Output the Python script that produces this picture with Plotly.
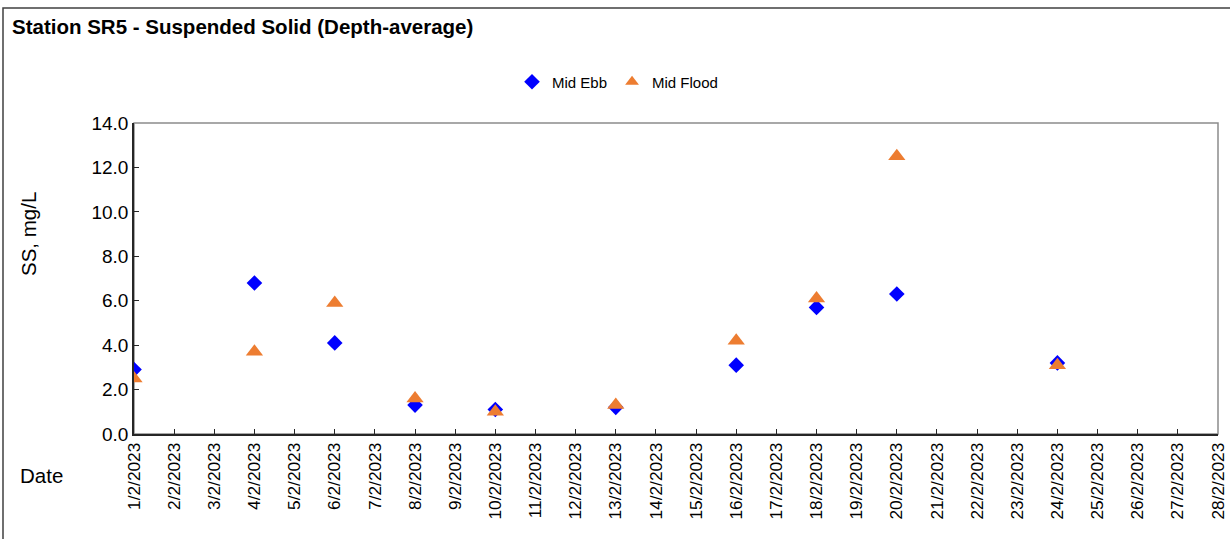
import plotly.graph_objects as go

dates = ["2023-02-01", "2023-02-04", "2023-02-06", "2023-02-08", "2023-02-10",
         "2023-02-13", "2023-02-16", "2023-02-18", "2023-02-20", "2023-02-24"]
mid_ebb = [2.9, 6.8, 4.1, 1.3, 1.1, 1.2, 3.1, 5.7, 6.3, 3.2]
mid_flood = [2.5, 3.7, 5.9, 1.6, 1.0, 1.3, 4.2, 6.1, 12.5, 3.1]

FONT = "Liberation Sans, Arial, sans-serif"

fig = go.Figure()
fig.add_trace(go.Scatter(x=dates, y=mid_ebb, mode="markers", name="Mid Ebb",
                         marker=dict(symbol="diamond", size=12, color="#0000FF")))
fig.add_trace(go.Scatter(x=dates, y=mid_flood, mode="markers", name="Mid Flood",
                         marker=dict(symbol="triangle-up", size=15, color="#ED7D31")))

W, H = 1230, 539
L, R, T, B = 134, 12, 123, 105
pw, ph = W - L - R, H - T - B

def px(x):
    return (x - L) / pw

def py(y):
    return (H - B - y) / ph

fig.update_layout(
    width=W, height=H,
    margin=dict(l=L, r=R, t=T, b=B, autoexpand=False),
    paper_bgcolor="white", plot_bgcolor="white",
    font=dict(family=FONT, color="#000000"),
    title=dict(text="<b>Station SR5 - Suspended Solid (Depth-average)</b>",
               font=dict(size=20.5, family=FONT, color="#000000"),
               xref="container", yref="container",
               x=12 / W, xanchor="left", y=1 - 27 / H, yanchor="middle"),
    showlegend=True,
    legend=dict(orientation="h", x=px(512), xanchor="left", y=py(82), yanchor="middle",
                font=dict(size=15, family=FONT), bgcolor="rgba(0,0,0,0)",
                itemwidth=30, tracegroupgap=0, itemsizing="constant"),
    xaxis=dict(type="date", range=["2023-02-01", "2023-02-28"],
               dtick=86400000, tick0="2023-02-01", tickformat="%-d/%-m/%Y",
               tickangle=-90, ticks="inside", ticklen=5, tickcolor="#262626",
               showline=True, linecolor="#262626", linewidth=1.5,
               showgrid=False, zeroline=False,
               tickfont=dict(size=17.3, family=FONT, color="#000000")),
    yaxis=dict(range=[0, 14], dtick=2, tickformat=".1f",
               ticks="inside", ticklen=5, tickcolor="#262626",
               showline=True, linecolor="#262626", linewidth=1.5,
               showgrid=False, zeroline=False,
               tickfont=dict(size=19, family=FONT, color="#000000")),
)

# plot frame (top/right) and outer chart border
fig.add_shape(type="rect", xref="paper", yref="paper", x0=0, y0=0, x1=1, y1=1,
              line=dict(color="#8c8c8c", width=1.5), layer="below")
fig.add_shape(type="rect", xref="paper", yref="paper",
              x0=px(3), y0=py(560), x1=px(1240), y1=py(8),
              line=dict(color="#404040", width=1.5), layer="below")

fig.add_annotation(text="SS, mg/L", xref="paper", yref="paper",
                   x=px(28), y=py(234), xanchor="center", yanchor="middle",
                   textangle=-90, showarrow=False,
                   font=dict(size=20.5, family=FONT, color="#000000"))
fig.add_annotation(text="Date", xref="paper", yref="paper",
                   x=px(41), y=py(475), xanchor="center", yanchor="middle",
                   showarrow=False,
                   font=dict(size=20.5, family=FONT, color="#000000"))

fig.write_html("out.html", config={"displayModeBar": False},
               post_script="document.body.style.margin='0';")
